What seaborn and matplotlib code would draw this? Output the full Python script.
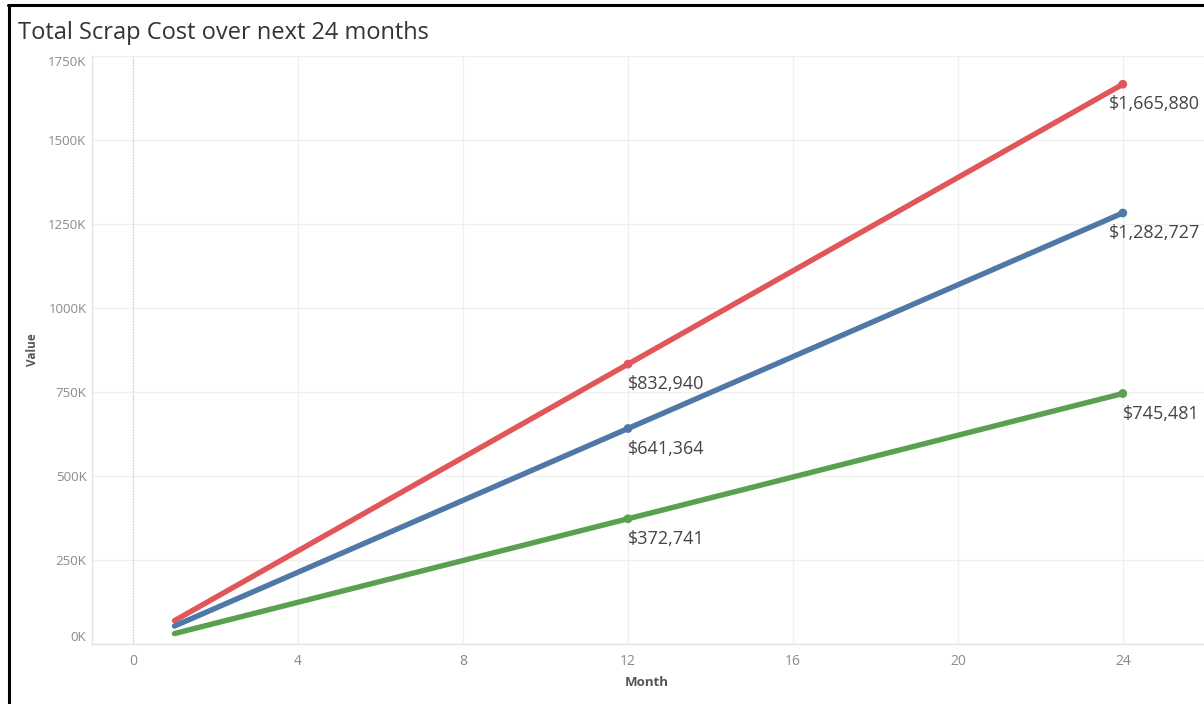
import matplotlib
matplotlib.use("Agg")
import matplotlib.pyplot as plt
from matplotlib.lines import Line2D
from matplotlib.ticker import FuncFormatter
import seaborn as sns
import pandas as pd

# ---- data -------------------------------------------------------------
months = [1, 12, 24]
scrap_upper = [69412, 832940, 1665880]
scrap_mid = [53447, 641364, 1282727]
scrap_lower = [31062, 372741, 745481]
labelled_months = [12, 24]

series_names = ["Upper", "Mid", "Lower"]
series_colors = {"Upper": "#E15759", "Mid": "#4E79A7", "Lower": "#59A14F"}

x_ticks = [0, 4, 8, 12, 16, 20, 24]
y_ticks = [0, 250000, 500000, 750000, 1000000, 1250000, 1500000, 1750000]

df = pd.DataFrame({
    "Month": months * 3,
    "Value": scrap_upper + scrap_mid + scrap_lower,
    "Series": [s for s in series_names for _ in months],
})

# ---- figure -----------------------------------------------------------
sns.set_theme(style="white")
plt.rcParams["font.family"] = ["Open Sans", "DejaVu Sans"]

W, H = 1204, 704
fig = plt.figure(figsize=(W / 100, H / 100), dpi=100)
ax_left, ax_right, ax_bottom, ax_top = 92, 1204, 644, 56
ax = fig.add_axes([ax_left / W, 1 - ax_bottom / H,
                   (ax_right - ax_left) / W, (ax_bottom - ax_top) / H])

grid_col = "#f0f0f0"
ax.set_xlim(-1, 25.97)
ax.set_ylim(0, 1750000)
ax.set_xticks(x_ticks)
ax.set_yticks(y_ticks)
ax.grid(True, color=grid_col, linewidth=1, zorder=0)
ax.axvline(0, color="#c4c4c4", linewidth=0.8, linestyle=(0, (1, 1.5)), zorder=1)

sns.lineplot(data=df, x="Month", y="Value", hue="Series",
             palette=series_colors, linewidth=3.9, legend=False, ax=ax,
             solid_capstyle="round", zorder=3)

marks = df[df["Month"].isin(labelled_months)]
sns.scatterplot(data=marks, x="Month", y="Value", hue="Series",
                palette=series_colors, s=40, edgecolor="none",
                legend=False, ax=ax, zorder=4)

for sp in ["top", "right"]:
    ax.spines[sp].set_visible(False)
for sp in ["left", "bottom"]:
    ax.spines[sp].set_color("#e4e4e4")
    ax.spines[sp].set_linewidth(1)

ax.tick_params(axis="both", length=0, colors="#8a8a8a")
ax.tick_params(axis="x", labelsize=10, pad=7)
ax.tick_params(axis="y", labelsize=9.5, pad=4)
ax.yaxis.set_major_formatter(FuncFormatter(lambda v, p: f"{int(round(v / 1000))}K"))

ax.set_xlabel("Month", fontsize=9.5, fontweight="bold", color="#555555")
ax.set_ylabel("Value", fontsize=8.5, fontweight="bold", color="#555555")
ax.xaxis.label.set_va("center")
ax.yaxis.label.set_va("center")
ax.xaxis.set_label_coords((647 - ax_left) / (ax_right - ax_left),
                          -(683 - ax_bottom) / (ax_bottom - ax_top))
ax.yaxis.set_label_coords(-(92 - 33) / (ax_right - ax_left), 0.5)

# keep end labels of the value axis inside the plot band
ylabels = ax.get_yticklabels()
ylabels[0].set_va("bottom")
ylabels[-1].set_va("top")

# value annotations
annots = []
for vals in (scrap_upper, scrap_mid, scrap_lower):
    for m, v in zip(months, vals):
        if m in labelled_months:
            t = ax.annotate(f"${v:,}", (m, v), xytext=(0, -20),
                            textcoords="offset pixels", ha="left", va="center",
                            fontsize=13, color="#444444", zorder=5,
                            annotation_clip=False)
            annots.append(t)

fig.text(18 / W, 1 - 33 / H, "Total Scrap Cost over next 24 months",
         fontsize=17, color="#333333", va="center", ha="left")

# frame lines along the top and left edge
fig.add_artist(Line2D([8 / W, 1], [1 - 5 / H, 1 - 5 / H], color="black",
                      linewidth=2.2, transform=fig.transFigure))
fig.add_artist(Line2D([9 / W, 9 / W], [0, 1 - 5 / H], color="black",
                      linewidth=2.2, transform=fig.transFigure))

# pull labels that would run past the right edge back inside
fig.canvas.draw()
renderer = fig.canvas.get_renderer()
for t in annots:
    bb = t.get_window_extent(renderer)
    if bb.x1 > W - 3:
        t.set_position((-(bb.x1 - (W - 4)), -20))

fig.savefig("out.png", dpi=100)
